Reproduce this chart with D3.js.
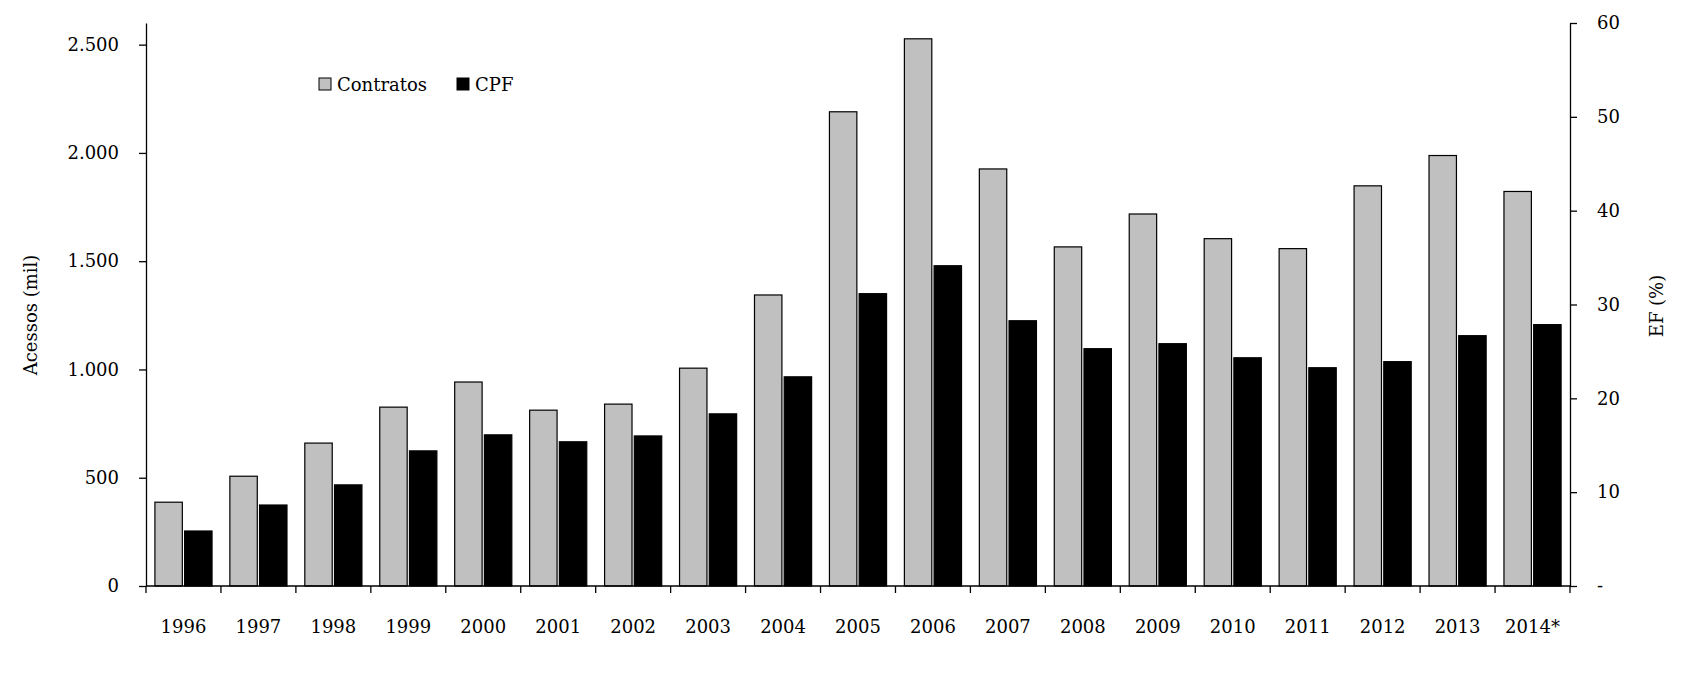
<!DOCTYPE html>
<html>
<head>
<meta charset="utf-8">
<script src="https://cdn.jsdelivr.net/npm/d3@7"></script>
<style>
  body { margin: 0; background: #fff; }
  svg text { font-family: "DejaVu Serif", serif; font-size: 18px; fill: #000; }
</style>
</head>
<body>
<div id="grafico"></div>
<script>
// Dados
const anos = ['1996', '1997', '1998', '1999', '2000', '2001', '2002', '2003', '2004', '2005',
              '2006', '2007', '2008', '2009', '2010', '2011', '2012', '2013', '2014*'];
const contratos = [387, 507, 660, 826, 942, 812, 840, 1006, 1344, 2190,
                   2527, 1926, 1566, 1718, 1604, 1558, 1848, 1988, 1822];
const cpf = [254, 374, 467, 624, 698, 666, 693, 795, 966, 1350,
             1479, 1225, 1096, 1119, 1054, 1008, 1036, 1156, 1207];
const series = ['Contratos', 'CPF'];
const ticksEsq = [0, 500, 1000, 1500, 2000, 2500];
const ticksDir = [0, 10, 20, 30, 40, 50, 60];

const largura = 1683;
const altura = 687;
const margem = { topo: 23, direita: 113, baixo: 101, esquerda: 146 };
const cores = { Contratos: '#c0c0c0', CPF: '#000000' };

const tabela = anos.map((a, i) => ({ ano: a, Contratos: contratos[i], CPF: cpf[i] }));

const svg = d3.select('#grafico')
  .append('svg')
  .attr('width', largura)
  .attr('height', altura);

const g = svg.append('g')
  .attr('transform', `translate(${margem.esquerda}, ${margem.topo})`);

const w = largura - margem.esquerda - margem.direita;
const h = altura - margem.topo - margem.baixo;

// Escalas
const x = d3.scaleBand().domain(anos).range([0, w]).padding(0);
const x1 = d3.scaleBand().domain(series).range([0, x.bandwidth()])
  .paddingInner(0.077).paddingOuter(0.3);
const y = d3.scaleLinear().domain([0, 2600]).range([h, 0]);
const y2 = d3.scaleLinear().domain([0, 60]).range([h, 0]);

// Barras
const grupos = g.selectAll('.ano')
  .data(tabela)
  .join('g')
  .attr('transform', d => `translate(${x(d.ano)},0)`);

grupos.selectAll('rect')
  .data(d => series.map(s => ({ s, v: d[s] })))
  .join('rect')
  .attr('x', d => x1(d.s))
  .attr('width', x1.bandwidth())
  .attr('y', d => y(d.v))
  .attr('height', d => h - y(d.v))
  .attr('fill', d => cores[d.s])
  .attr('stroke', '#000')
  .attr('stroke-width', 1.2);

// Eixo X: rótulos
const eixoX = g.append('g')
  .attr('transform', `translate(0, ${h})`)
  .call(d3.axisBottom(x).tickSize(0).tickPadding(34));
eixoX.select('.domain').remove();

// Eixo X: linha e marcas nas divisões
const divisoes = anos.map(a => x(a)).concat([x.range()[1]]);
g.append('line')
  .attr('x1', 0).attr('x2', w)
  .attr('y1', h).attr('y2', h)
  .attr('stroke', '#000').attr('stroke-width', 1.3);
g.selectAll('.divisao')
  .data(divisoes)
  .join('line')
  .attr('x1', d => d).attr('x2', d => d)
  .attr('y1', h).attr('y2', h + 7)
  .attr('stroke', '#000').attr('stroke-width', 1.3);

// Eixo Y esquerdo
const fmt = v => d3.format(',')(v).replace(/,/g, '.');
g.append('g')
  .call(d3.axisLeft(y).tickValues(ticksEsq).tickFormat(fmt).tickSize(7).tickPadding(20).tickSizeOuter(0))
  .call(a => a.selectAll('line, path').attr('stroke-width', 1.3));

// Eixo Y direito
g.append('g')
  .attr('transform', `translate(${w}, 0)`)
  .call(d3.axisRight(y2).tickValues(ticksDir).tickFormat(v => v === 0 ? '-' : v).tickSize(7).tickPadding(20).tickSizeOuter(0))
  .call(a => a.selectAll('line, path').attr('stroke-width', 1.3));

svg.selectAll('.tick text').style('font-size', '18px').style('font-family', '"DejaVu Serif", serif');

// Títulos dos eixos
svg.append('text')
  .attr('transform', 'translate(37, 315) rotate(-90)')
  .attr('text-anchor', 'middle')
  .text('Acessos (mil)');

svg.append('text')
  .attr('transform', 'translate(1663, 306) rotate(-90)')
  .attr('text-anchor', 'middle')
  .text('EF (%)');

// Legenda
const legenda = svg.append('g').attr('transform', 'translate(319, 78)');
const itens = legenda.selectAll('g')
  .data(series)
  .join('g')
  .attr('transform', (d, i) => `translate(${i * 138}, 0)`);
itens.append('rect')
  .attr('width', 12).attr('height', 12)
  .attr('fill', d => cores[d])
  .attr('stroke', '#000').attr('stroke-width', 1);
itens.append('text')
  .attr('x', 18).attr('y', 13)
  .text(d => d);
</script>
</body>
</html>
